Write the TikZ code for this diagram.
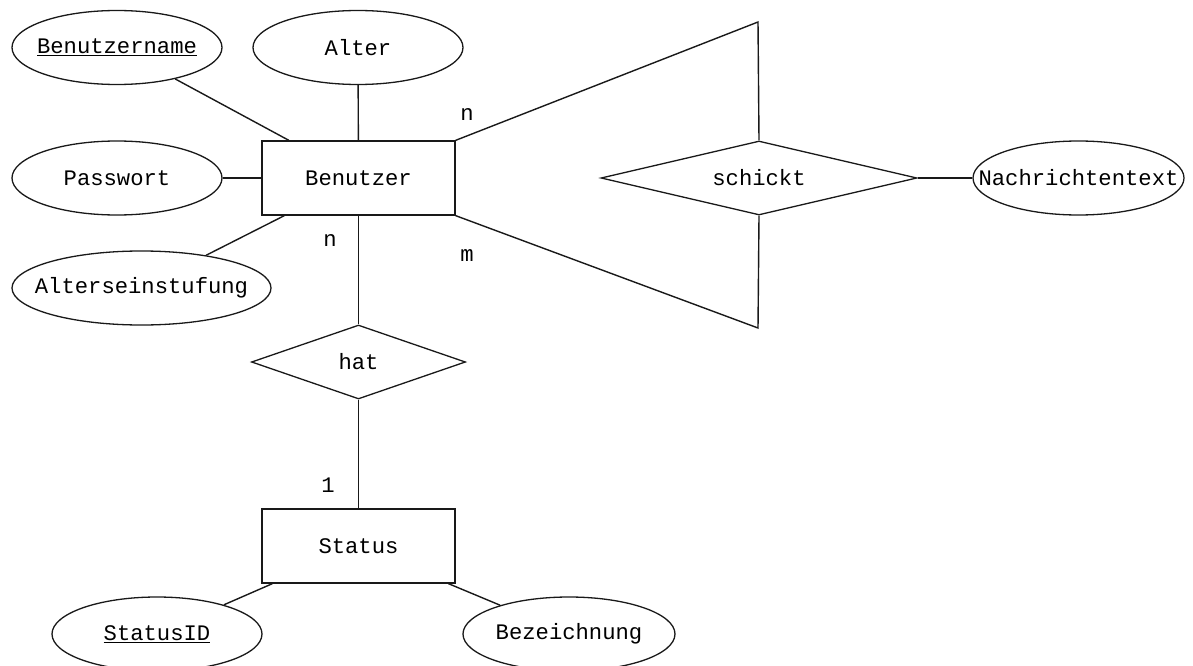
\documentclass[tikz,border=0pt]{standalone}
\usepackage{fontspec}
\setmonofont{Liberation Mono}
\usetikzlibrary{shapes.geometric}
\newcommand{\txt}{\ttfamily\fontsize{22.2pt}{26pt}\selectfont}
\tikzset{
  base/.style={draw=black!90, line width=1.3pt, inner sep=0pt, fill=white},
  attr/.style 2 args={base, ellipse, minimum width=#1, minimum height=74pt, label={center:\txt #2}},
  ent/.style={base, rectangle, minimum width=193pt, minimum height=74pt, font=\txt},
  rel/.style={base, diamond, font=\txt},
  card/.style={font=\txt, inner sep=0pt},
  conn/.style={draw=black!90, line width=1.4pt},
}
\begin{document}
\begin{tikzpicture}[x=1pt,y=-1pt]
\useasboundingbox (0,0) rectangle (1193,666);
\fill[white] (0,0) rectangle (1193,666);
\coordinate (sn) at (758,22);
\coordinate (ss) at (758,328);
% entities
\node[ent] (b) at (358.5,178) {Benutzer};
\node[ent] (st) at (358.5,546) {Status};
% relations
\node[rel, minimum width=316pt, minimum height=74pt, label={center:\txt schickt}] (s) at (759,178) {};
\node[rel, minimum width=214pt, minimum height=74pt, label={center:\txt hat}] (h) at (358.5,362) {};
% attributes
\node[attr={210pt}{\underline{Benutzername}}] (bn) at (117,47.5) {};
\node[attr={210pt}{Alter}] (al) at (358,47.5) {};
\node[attr={210pt}{Passwort}] (pw) at (117,178) {};
\node[attr={259pt}{Alterseinstufung}] (ae) at (141.5,288) {};
\node[attr={211pt}{Nachrichtentext}] (nt) at (1078.5,178) {};
\node[attr={210pt}{\underline{StatusID}}] (sid) at (157,634) {};
\node[attr={212pt}{Bezeichnung}] (bz) at (569,634) {};
% connectors
\draw[conn] (bn) -- (b);
\draw[conn] (al) -- (b);
\draw[conn] (pw) -- (b);
\draw[conn] (ae) -- (b);
\draw[conn] (b.north east) -- (sn) -- (s.north);
\draw[conn] (b.south east) -- (ss) -- (s.south);
\draw[conn] (s) -- (nt);
\draw[conn] (b) -- (h);
\draw[conn] (h) -- (st);
\draw[conn] (sid) -- (st);
\draw[conn] (bz) -- (st);
% cardinalities
\node[card] (c1) at (467,115) {n};
\node[card] (c2) at (467,256) {m};
\node[card] (c3) at (330,241) {n};
\node[card] (c4) at (328,485) {1};
\end{tikzpicture}
\end{document}
